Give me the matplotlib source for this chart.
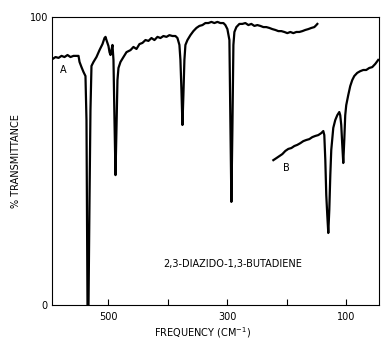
import matplotlib
matplotlib.use("Agg")
import matplotlib.pyplot as plt

# Curve A (frequency cm-1, % transmittance)
freq_a = [594.1, 589.1, 584.0, 579.0, 574.0, 568.9, 563.9, 558.8, 553.8, 550.4,
          548.7, 545.4, 542.0, 538.7, 537.0, 535.3, 533.6, 531.9, 530.3, 528.6,
          525.2, 520.2, 515.1, 510.1, 506.7, 505.0, 503.4, 500.0, 498.3, 496.6,
          495.0, 493.3, 491.6, 489.9, 488.2, 486.6, 484.9, 483.2, 479.8, 474.8,
          469.7, 463.0, 458.0, 452.9, 447.9, 442.9, 437.8, 432.8, 427.7, 422.7,
          417.6, 412.6, 407.6, 402.5, 397.5, 392.4, 387.4, 384.0, 380.7, 379.0,
          377.3, 375.6, 374.0, 372.3, 370.6, 367.2, 362.2, 357.2, 352.1, 347.1,
          342.0, 337.0, 332.0, 326.9, 321.9, 316.8, 311.8, 306.7, 303.4, 300.0,
          296.6, 295.0, 293.3, 291.6, 289.9, 288.2, 284.9, 279.8, 274.8, 269.8,
          264.7, 259.7, 254.6, 249.6, 244.5, 239.5, 234.5, 229.4, 224.4, 219.3,
          214.3, 209.2, 204.2, 199.2, 194.1, 189.1, 184.0, 179.0, 173.9, 168.9,
          163.9, 158.8, 153.8, 150.4, 148.7]
trans_a = [85.4, 86.1, 85.8, 86.5, 86.1, 86.8, 86.1, 86.5, 86.5, 86.5,
           84.4, 82.6, 80.9, 79.5, 64.2, 0.0, 0.0, 36.5, 67.7, 83.0,
           84.4, 86.1, 88.5, 90.6, 92.7, 93.1, 92.0, 89.9, 87.8, 86.8,
           88.5, 90.3, 85.1, 64.2, 45.1, 60.8, 78.1, 82.3, 84.4, 86.1,
           87.8, 88.5, 89.6, 88.9, 90.6, 91.0, 92.0, 91.7, 92.7, 92.0,
           93.1, 92.7, 93.4, 93.1, 93.7, 93.4, 93.4, 92.7, 90.3, 85.1,
           74.7, 62.5, 72.9, 85.1, 90.3, 92.0, 93.7, 95.1, 96.2, 96.9,
           97.2, 97.9, 97.9, 98.3, 97.9, 98.3, 97.9, 97.9, 97.2, 95.8,
           92.0, 64.2, 35.8, 60.8, 90.3, 94.8, 96.5, 97.6, 97.6, 97.9,
           97.2, 97.6, 96.9, 97.2, 96.9, 96.5, 96.5, 96.2, 95.8, 95.5,
           95.1, 95.1, 94.8, 94.4, 94.8, 94.4, 94.8, 94.8, 95.1, 95.5,
           95.8, 96.2, 96.5, 97.2, 97.6]

# Curve B
freq_b = [222.7, 217.6, 212.6, 207.6, 202.5, 197.5, 192.4, 187.4, 182.4, 177.3,
          172.3, 167.2, 162.2, 157.1, 152.1, 147.1, 142.0, 138.7, 137.0, 135.3,
          133.7, 132.0, 130.3, 128.6, 126.9, 125.3, 121.9, 118.6, 115.2, 111.8,
          110.2, 108.5, 106.8, 105.1, 103.4, 101.8, 100.1, 96.7, 93.4, 90.0,
          86.6, 81.6, 76.5, 71.5, 66.5, 61.4, 56.4, 51.3, 46.3]
trans_b = [50.3, 51.0, 51.7, 52.4, 53.5, 54.2, 54.5, 55.2, 55.6, 56.2,
           56.9, 57.3, 57.6, 58.3, 58.7, 59.0, 59.7, 60.4, 59.0, 50.3,
           38.2, 31.2, 25.0, 33.0, 45.1, 53.8, 61.5, 64.2, 65.9, 67.0,
           65.9, 62.5, 55.6, 49.3, 57.3, 65.9, 69.4, 72.9, 76.0, 78.1,
           79.5, 80.6, 81.2, 81.6, 81.6, 82.3, 82.6, 83.7, 85.1]

major_ticks = [500, 400, 300, 200, 100]
tick_labels = ["500", "", "300", "", "100"]
y_ticks = [0, 100]
y_labels = ["0", "100"]

fig = plt.figure(figsize=(3.81, 3.43), dpi=100)
ax = fig.add_axes([52 / 381, 1 - 305 / 343, (379 - 52) / 381, (305 - 17) / 343])

ax.plot(freq_a, trans_a, color="black", lw=1.6, solid_joinstyle="round")
ax.plot(freq_b, trans_b, color="black", lw=1.6, solid_joinstyle="round")

ax.set_xlim(595, 45)
ax.set_ylim(0, 100)
ax.set_xticks(major_ticks)
ax.set_xticklabels(tick_labels, fontsize=7)
ax.set_yticks(y_ticks)
ax.set_yticklabels(y_labels, fontsize=7)
ax.tick_params(axis="x", direction="in", length=4, width=0.8, pad=5)
ax.tick_params(axis="y", length=0, pad=3)
for s in ax.spines.values():
    s.set_linewidth(0.8)

ax.set_ylabel("% TRANSMITTANCE", fontsize=7, labelpad=6)
fig.text(203 / 381, 1 - 333 / 343, "FREQUENCY (CM$^{-1}$)", fontsize=7,
         ha="center", va="center")

ax.text(0.034, 0.816, "A", transform=ax.transAxes, fontsize=7, ha="center", va="center")
ax.text(0.716, 0.476, "B", transform=ax.transAxes, fontsize=7, ha="center", va="center")
ax.text(0.553, 0.142, "2,3-DIAZIDO-1,3-BUTADIENE", transform=ax.transAxes,
        fontsize=7, ha="center", va="center")

fig.savefig("out.png", dpi=100)
